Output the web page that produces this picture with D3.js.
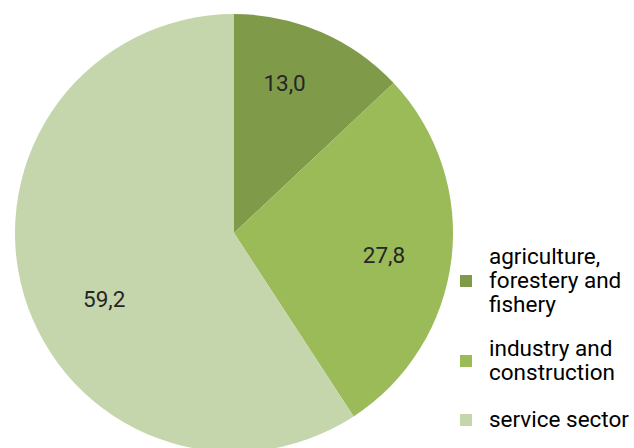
<!DOCTYPE html>
<html>
<head>
<meta charset="utf-8">
<script src="https://cdn.jsdelivr.net/npm/d3@7"></script>
<style>
  html, body { margin: 0; padding: 0; background: #fff; }
  svg { display: block; }
</style>
</head>
<body>
<svg id="chart" width="634" height="448"></svg>
<script>
const categories = ["agriculture, forestery and fishery", "industry and construction", "service sector"];
const legendLines = [["agriculture,", "forestery and", "fishery"], ["industry and", "construction"], ["service sector"]];
const values = [13.0, 27.8, 59.2];
const valueLabels = ["13,0", "27,8", "59,2"];
const colors = ["#7f9b4a", "#9bbb59", "#c5d6ad"];

const svg = d3.select("#chart");
const cx = 234, cy = 233, R = 219;

const pie = d3.pie().sort(null).value(d => d)(values);
const arc = d3.arc().innerRadius(0).outerRadius(R);
const labelArc = d3.arc().innerRadius(150).outerRadius(150);

const g = svg.append("g").attr("transform", `translate(${cx},${cy})`);
g.selectAll("path").data(pie).join("path")
  .attr("d", arc)
  .attr("fill", (d, i) => colors[i]);

// small placement nudges (best-fit style label placement)
const nudge = [[-9, -12], [1, 4], [14, 23]];
g.selectAll("text.lbl").data(pie).join("text")
  .attr("class", "lbl")
  .attr("x", (d, i) => labelArc.centroid(d)[0] + nudge[i][0])
  .attr("y", (d, i) => labelArc.centroid(d)[1] + nudge[i][1] + 8)
  .attr("text-anchor", "middle")
  .attr("font-family", "Roboto, sans-serif")
  .attr("font-size", 22.5)
  .attr("fill", "#262626")
  .text((d, i) => valueLabels[i]);

// legend
const legendTop = [264, 356, 427];
const lineH = 24;
const lg = svg.append("g");
categories.forEach((c, i) => {
  const lines = legendLines[i];
  const first = legendTop[i];
  const mid = first + (lines.length - 1) * lineH / 2;
  lg.append("rect")
    .attr("x", 460).attr("y", mid - 13)
    .attr("width", 12).attr("height", 12)
    .attr("fill", colors[i]);
  const t = lg.append("text")
    .attr("font-family", "Roboto, sans-serif")
    .attr("font-size", 22.5)
    .attr("fill", "#000");
  lines.forEach((ln, j) => {
    t.append("tspan").attr("x", 489).attr("y", first + j * lineH).text(ln);
  });
});
</script>
</body>
</html>
